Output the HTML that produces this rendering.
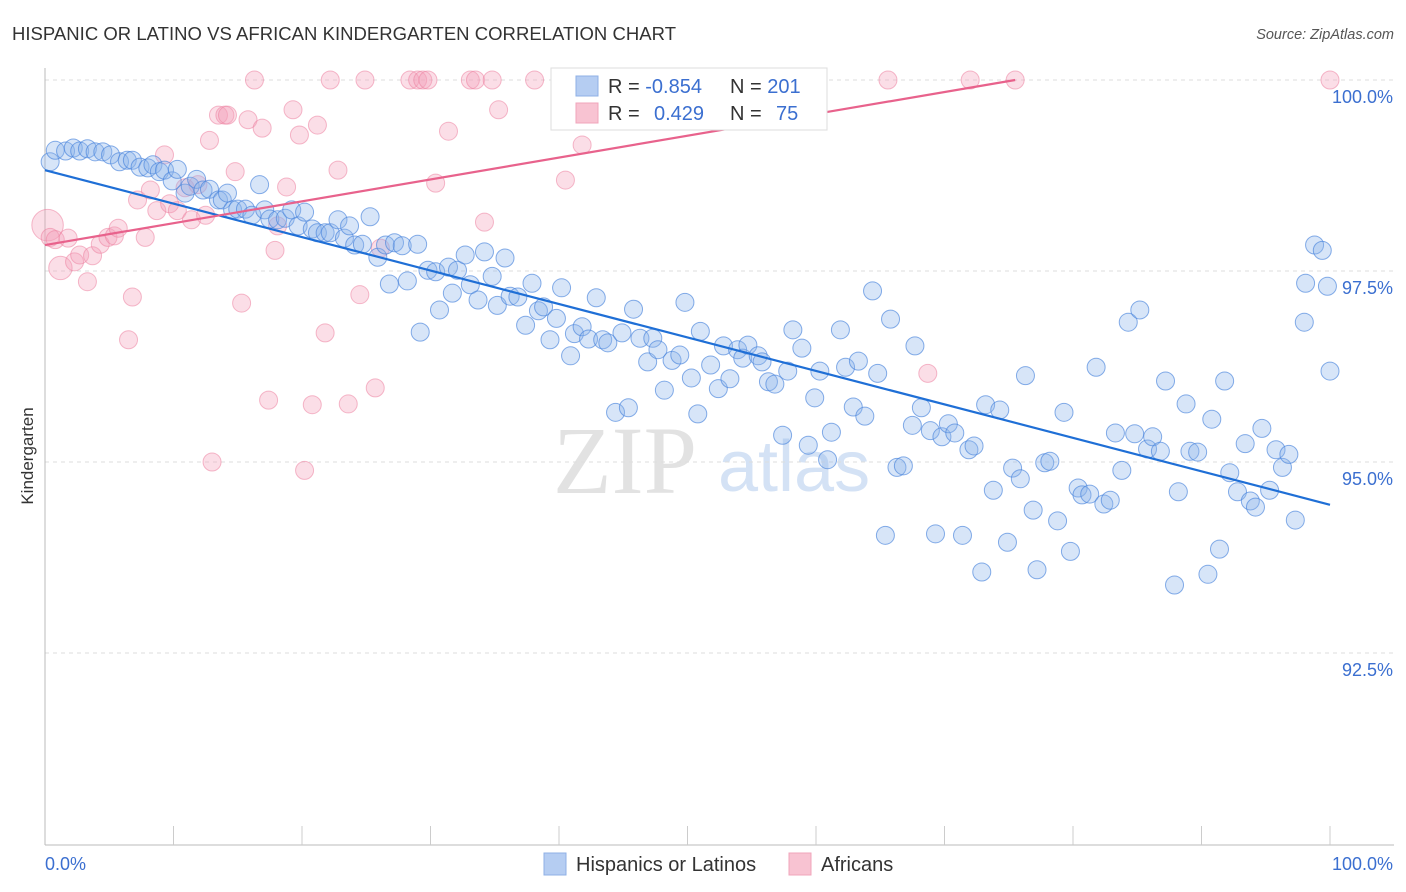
<!DOCTYPE html>
<html><head><meta charset="utf-8">
<style>
body{margin:0;background:#fff;width:1406px;height:892px;overflow:hidden;font-family:"Liberation Sans",sans-serif;}
svg{position:absolute;left:0;top:0;}
</style></head>
<body>
<svg id="chart" width="1406" height="892">
<text x="12" y="40" font-size="18.5" fill="#333" textLength="664">HISPANIC OR LATINO VS AFRICAN KINDERGARTEN CORRELATION CHART</text>
<text x="1394" y="39" font-size="14.5" fill="#555" font-style="italic" text-anchor="end">Source: ZipAtlas.com</text>
<text x="33" y="456" font-size="17" fill="#333" text-anchor="middle" transform="rotate(-90 33 456)">Kindergarten</text>
<g>
<text x="553" y="493" font-size="96" fill="#e2e2e2" font-family="Liberation Serif,serif">ZIP</text>
<text x="718" y="491" font-size="72" fill="#d4e2f5">atlas</text>
</g>
<g id="grid"></g>
<g id="axes"></g>
<g id="pinkPts"></g>
<g id="bluePts"></g>
<g id="trends"></g>
<g>
<rect x="551" y="68" width="276" height="62" fill="#fff" stroke="#ddd"/>
<rect x="576" y="76" width="22" height="20" fill="#b5cdf2" stroke="#8fb0e6"/>
<rect x="576" y="103" width="22" height="20" fill="#f8c3d2" stroke="#f0a5bb"/>
<text x="608" y="93" font-size="20" fill="#333">R = <tspan fill="#3b6fd0">-0.854</tspan></text>
<text x="730" y="93" font-size="20" fill="#333">N = <tspan fill="#3b6fd0">201</tspan></text>
<text x="608" y="120" font-size="20" fill="#333">R = <tspan fill="#3b6fd0" x="654">0.429</tspan></text>
<text x="730" y="120" font-size="20" fill="#333">N = <tspan fill="#3b6fd0" x="776">75</tspan></text>
</g>
<g>
<rect x="544" y="853" width="22" height="22" fill="#b5cdf2" stroke="#8fb0e6"/>
<text x="576" y="871" font-size="20" fill="#333">Hispanics or Latinos</text>
<rect x="789" y="853" width="22" height="22" fill="#f8c3d2" stroke="#f0a5bb"/>
<text x="821" y="871" font-size="20" fill="#333">Africans</text>
</g>
</svg>
<script>
const yTicks=[100,97.5,95,92.5];
const yTickLabels=["100.0%","97.5%","95.0%","92.5%"];
const xTickLabels=["0.0%","100.0%"];
const blueX=[0.4,0.8,1.6,2.2,2.7,3.3,3.9,4.5,5.1,5.8,6.4,6.8,7.4,8.0,8.4,8.9,9.3,9.9,10.3,10.9,11.3,11.8,12.3,12.8,13.5,13.8,14.2,14.6,15.0,15.6,16.1,16.7,17.1,17.5,18.1,18.7,19.2,19.7,20.2,20.8,21.2,21.8,22.2,22.8,23.3,23.7,24.1,24.7,25.3,25.9,26.5,26.8,27.2,27.8,28.2,29.0,29.2,29.8,30.4,30.7,31.4,31.7,32.1,32.7,33.1,33.7,34.2,34.8,35.2,35.8,36.2,36.8,37.4,37.9,38.4,38.8,39.3,39.8,40.2,40.9,41.2,41.8,42.3,42.9,43.4,43.8,44.4,44.9,45.4,45.8,46.3,46.9,47.3,47.7,48.2,48.8,49.4,49.8,50.3,50.8,51.0,51.8,52.4,52.8,53.3,53.9,54.3,54.7,55.5,55.8,56.3,56.8,57.4,57.8,58.2,58.9,59.4,59.9,60.3,60.9,61.2,61.9,62.3,62.9,63.3,63.8,64.4,64.8,65.4,65.8,66.3,66.8,67.5,67.7,68.2,68.9,69.3,69.8,70.3,70.8,71.4,71.9,72.3,72.9,73.2,73.8,74.3,74.9,75.3,75.9,76.3,76.9,77.2,77.8,78.2,78.8,79.3,79.8,80.4,80.7,81.3,81.8,82.4,82.9,83.3,83.8,84.3,84.8,85.2,85.8,86.2,86.8,87.2,87.9,88.2,88.8,89.1,89.7,90.5,90.8,91.4,91.8,92.2,92.8,93.4,93.8,94.2,94.7,95.3,95.8,96.3,96.8,97.3,98.0,98.1,98.8,99.4,99.8,100.0];
const blueY=[98.93,99.08,99.07,99.11,99.07,99.10,99.06,99.06,99.02,98.93,98.95,98.95,98.86,98.85,98.89,98.80,98.82,98.68,98.83,98.52,98.61,98.70,98.56,98.57,98.43,98.43,98.52,98.30,98.31,98.31,98.23,98.63,98.30,98.18,98.17,98.19,98.30,98.09,98.27,98.05,98.00,98.00,98.00,98.17,97.93,98.09,97.84,97.85,98.21,97.68,97.84,97.33,97.87,97.83,97.37,97.85,96.70,97.51,97.49,96.99,97.55,97.21,97.51,97.71,97.32,97.12,97.75,97.43,97.05,97.67,97.17,97.16,96.79,97.34,96.98,97.03,96.60,96.88,97.28,96.39,96.68,96.77,96.61,97.15,96.60,96.56,95.65,96.69,95.71,97.00,96.62,96.31,96.62,96.47,95.94,96.33,96.40,97.09,96.10,95.63,96.71,96.27,95.96,96.52,96.09,96.47,96.36,96.53,96.39,96.31,96.05,96.02,95.35,96.19,96.73,96.49,95.22,95.84,96.19,95.03,95.39,96.73,96.24,95.72,96.32,95.60,97.24,96.16,94.04,96.87,94.93,94.95,95.48,96.52,95.71,95.41,94.06,95.33,95.50,95.38,94.04,95.16,95.21,93.56,95.75,94.63,95.68,93.95,94.92,94.78,96.13,94.37,93.59,94.99,95.01,94.23,95.65,93.83,94.66,94.57,94.58,96.24,94.45,94.50,95.38,94.89,96.83,95.37,96.99,95.17,95.33,95.14,96.06,93.39,94.61,95.76,95.14,95.13,93.53,95.56,93.86,96.06,94.86,94.61,95.24,94.49,94.41,95.44,94.63,95.16,94.93,95.10,94.24,96.83,97.34,97.84,97.77,97.30,96.19];
const pinkX=[0.2,0.4,1.2,0.8,1.8,2.3,2.7,3.3,3.7,4.3,4.9,5.4,5.7,6.5,6.8,7.2,7.8,8.2,8.7,9.3,9.7,10.3,10.9,11.4,11.9,12.5,12.8,13.0,13.5,14.0,14.2,14.8,15.3,15.8,16.3,16.9,17.4,17.9,18.1,18.8,19.3,19.8,20.2,20.8,21.2,21.8,22.2,22.8,23.6,24.5,24.9,25.7,26.1,28.4,29.0,29.4,29.8,30.4,31.4,33.1,33.5,34.2,34.8,35.3,38.1,40.5,41.8,52.4,56.4,59.1,65.6,68.7,72.0,75.5,100];
const pinkY=[98.10,97.94,97.54,97.91,97.93,97.62,97.71,97.36,97.70,97.85,97.94,97.96,98.06,96.60,97.16,98.43,97.94,98.56,98.29,99.02,98.38,98.29,98.59,98.17,98.63,98.23,99.21,95.00,99.54,99.54,99.54,98.80,97.08,99.48,100,99.37,95.81,97.77,98.09,98.60,99.61,99.28,94.89,95.75,99.41,96.69,100,98.82,95.76,97.19,100,95.97,97.80,100,100,100,100,98.65,99.33,100,100,98.14,100,99.61,100,98.69,99.15,100,100,100,100,96.16,100,100,100];
const pinkSize=[1.75,1,1.3];
const blueTrendX=[0,100], blueTrendY=[98.82,94.44];
const pinkTrendX=[0,75.5], pinkTrendY=[97.84,100];

const X0=45,X1=1330,Y100=80,PXPER=76.4;
function sx(v){return X0+(X1-X0)*v/100;}
function sy(v){return Y100+(100-v)*PXPER;}
const NS="http://www.w3.org/2000/svg";
function mk(tag,attrs,parent){const e=document.createElementNS(NS,tag);for(const k in attrs)e.setAttribute(k,attrs[k]);parent.appendChild(e);return e;}
const grid=document.getElementById('grid'),axes=document.getElementById('axes');
yTicks.forEach((t,i)=>{
  const l=mk('line',{x1:X0,x2:1394,y1:sy(t),y2:sy(t),stroke:'#ddd','stroke-dasharray':'4,4'},grid);
  
  
  const tx=mk('text',{x:1393,y:sy(t)+23,'font-size':18,fill:'#3b6fd0','text-anchor':'end'},grid);
  tx.textContent=yTickLabels[i];
  
  
});
let a=mk('line',{x1:X0,x2:X0,y1:68,y2:845,stroke:'#bbb'},axes);


a=mk('line',{x1:X0,x2:1394,y1:845,y2:845,stroke:'#bbb'},axes);


for(let k=1;k<=10;k++){
  const t=mk('line',{x1:sx(k*10),x2:sx(k*10),y1:826,y2:845,stroke:'#ccc'},axes);
  
  
}
let xl=mk('text',{x:45,y:870,'font-size':18,fill:'#3b6fd0'},axes);xl.textContent=xTickLabels[0];


xl=mk('text',{x:1393,y:870,'font-size':18,fill:'#3b6fd0','text-anchor':'end'},axes);xl.textContent=xTickLabels[1];


const pg=document.getElementById('pinkPts');
pinkX.forEach((x,i)=>{
  const r=9*(pinkSize[i]||1);
  const c=mk('circle',{cx:sx(x),cy:sy(pinkY[i]),r:r,fill:'rgba(244,160,185,0.35)',stroke:'rgba(236,130,160,0.55)','stroke-width':1},pg);
  
  
});
const bg=document.getElementById('bluePts');
blueX.forEach((x,i)=>{
  const c=mk('circle',{cx:sx(x),cy:sy(blueY[i]),r:9,fill:'rgba(140,180,236,0.35)',stroke:'rgba(70,130,220,0.65)','stroke-width':1},bg);
  
  
});
const tg=document.getElementById('trends');
let tl=mk('line',{x1:sx(blueTrendX[0]),y1:sy(blueTrendY[0]),x2:sx(blueTrendX[1]),y2:sy(blueTrendY[1]),stroke:'#1f6fd6','stroke-width':2.2},tg);


tl=mk('line',{x1:sx(pinkTrendX[0]),y1:sy(pinkTrendY[0]),x2:sx(pinkTrendX[1]),y2:sy(pinkTrendY[1]),stroke:'#e8628c','stroke-width':2.2},tg);


</script>
</body></html>
